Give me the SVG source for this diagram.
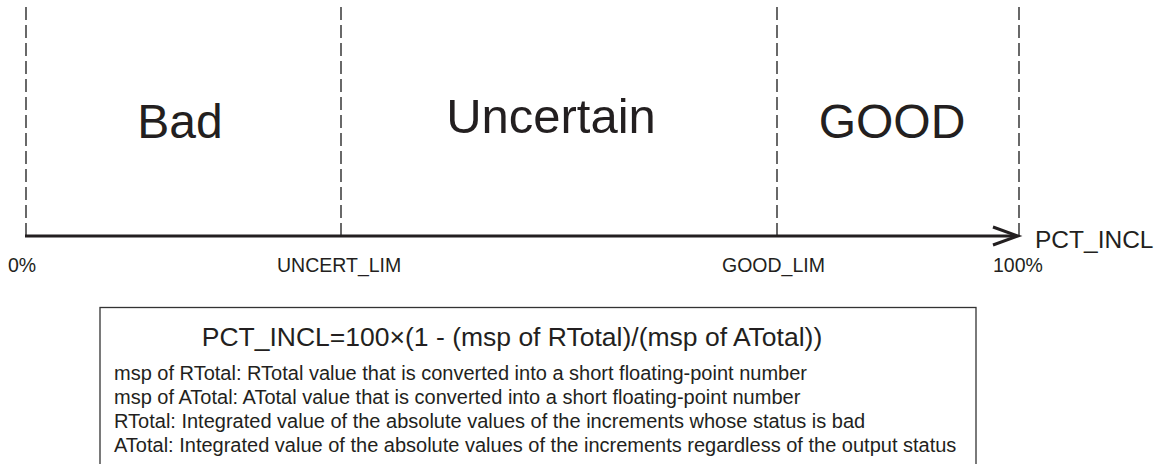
<svg xmlns="http://www.w3.org/2000/svg" width="1159" height="464" viewBox="0 0 1159 464">
<style>
text { font-family: "Liberation Sans", Arial, sans-serif; fill: #231f20; }
.big { font-size: 48px; text-anchor: middle; }
.lbl { font-size: 19.5px; }
.dash { stroke: #444; stroke-width: 1.6; stroke-dasharray: 13 5; fill: none; }
.axis { stroke: #231f20; stroke-width: 3; fill: none; }
.box { stroke: #333; stroke-width: 1.3; fill: #fff; }
.note { font-size: 20px; }
</style>
<g id="connectors">
<line class="dash" x1="26" y1="7" x2="26" y2="236"/>
<line class="dash" x1="341" y1="7" x2="341" y2="236"/>
<line class="dash" x1="777" y1="7" x2="777" y2="236"/>
<line class="dash" x1="1019" y1="7" x2="1019" y2="236"/>
<line class="axis" x1="25" y1="236" x2="1016" y2="236"/>
<polyline class="axis" points="993,227 1018,236 993,245"/>
</g>
<g id="zone-bad"><text class="big" x="180" y="138">Bad</text></g>
<g id="zone-uncertain"><text class="big" x="551" y="133" style="font-size:49px">Uncertain</text></g>
<g id="zone-good"><text class="big" x="892" y="138">GOOD</text></g>
<g id="axis-labels">
<text class="lbl" x="8" y="272">0%</text>
<text class="lbl" x="277" y="272">UNCERT_LIM</text>
<text class="lbl" x="722" y="272">GOOD_LIM</text>
<text class="lbl" x="993" y="272">100%</text>
<text x="1035" y="248" style="font-size:24.5px">PCT_INCL</text>
</g>
<g id="formula-box">
<rect class="box" x="100" y="307.5" width="876" height="170"/>
<text x="512" y="346" style="font-size:26.5px" text-anchor="middle">PCT_INCL=100×(1 - (msp of RTotal)/(msp of ATotal))</text>
<text class="note" x="114" y="380">msp of RTotal: RTotal value that is converted into a short floating-point number</text>
<text class="note" x="114" y="404">msp of ATotal: ATotal value that is converted into a short floating-point number</text>
<text class="note" x="114" y="428">RTotal: Integrated value of the absolute values of the increments whose status is bad</text>
<text class="note" x="114" y="452">ATotal: Integrated value of the absolute values of the increments regardless of the output status</text>
</g>
</svg>
